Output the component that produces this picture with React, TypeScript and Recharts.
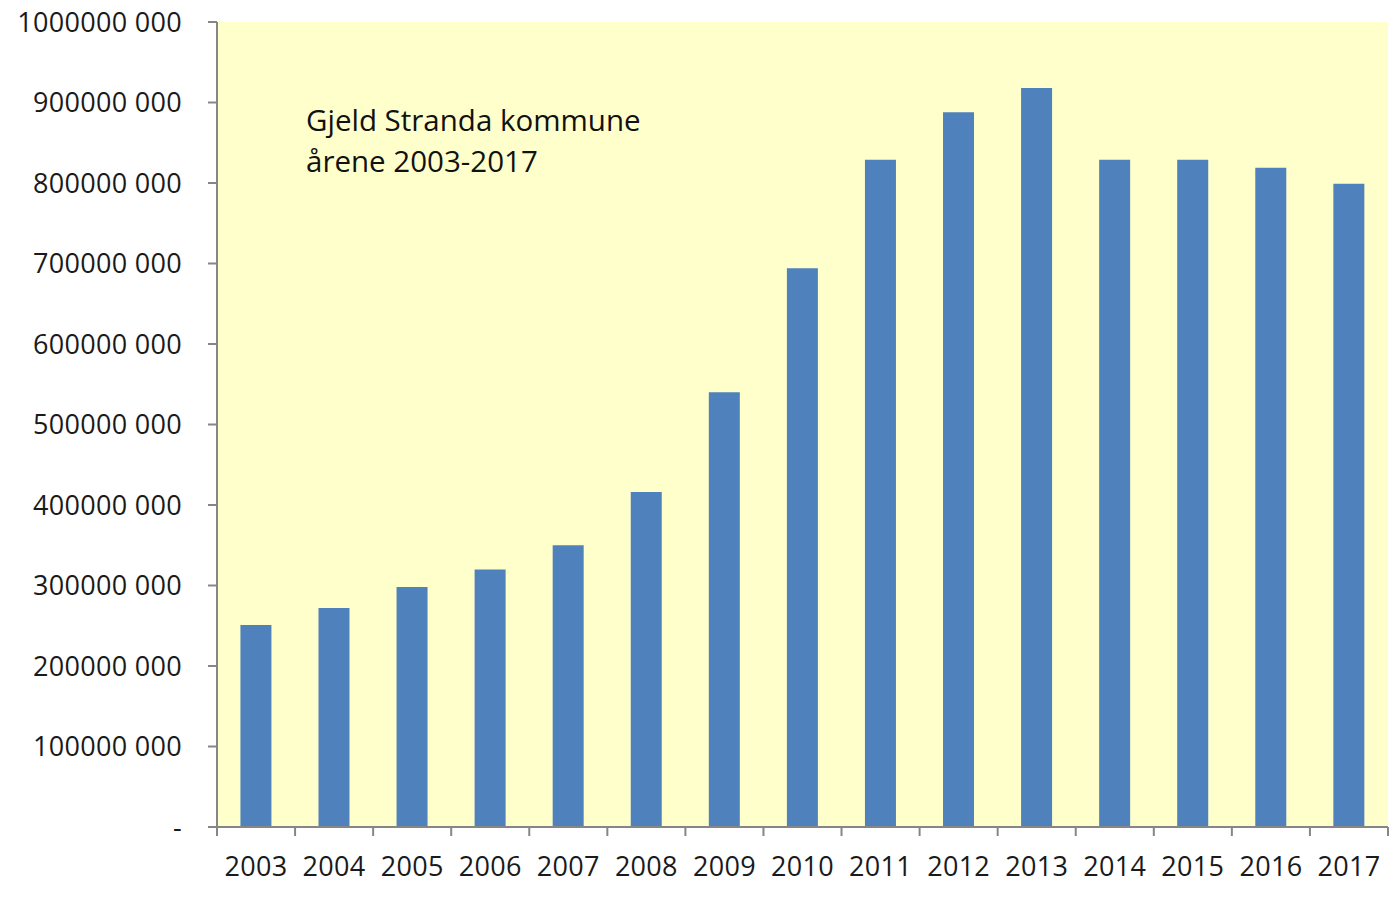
import React from 'react';
import { BarChart, Bar, XAxis, YAxis } from 'recharts';

const years = ['2003','2004','2005','2006','2007','2008','2009','2010','2011','2012','2013','2014','2015','2016','2017'];
const debt = [251e6, 272e6, 298e6, 320e6, 350e6, 416e6, 540e6, 694e6, 829e6, 888e6, 918e6, 829e6, 829e6, 819e6, 799e6];
const yTicks = [0, 100e6, 200e6, 300e6, 400e6, 500e6, 600e6, 700e6, 800e6, 900e6, 1000e6];
const titleLines = ['Gjeld Stranda kommune', 'årene 2003-2017'];

const data = years.map((y, i) => ({ year: y, value: debt[i] }));

const W = 1396;
const H = 920;
const M = { top: 22, right: 8, left: 0, bottom: 48 };
const Y_W = 217;
const PLOT_W = W - M.left - M.right - Y_W;
const BAND = PLOT_W / years.length;
const FONT = '"Open Sans", sans-serif';
const AXIS = '#868686';

const fmt = (v: number) => (v === 0 ? '-' : `${Math.round(v / 1000)} 000`);

const XTick = (props: any) => {
  const { x, y, payload, index } = props;
  const left = x - BAND / 2;
  return (
    <g>
      <line x1={left} y1={y - 8} x2={left} y2={y + 1} stroke={AXIS} strokeWidth={2} />
      {index === years.length - 1 && (
        <line x1={x + BAND / 2} y1={y - 8} x2={x + BAND / 2} y2={y + 1} stroke={AXIS} strokeWidth={2} />
      )}
      <text x={x} y={y + 41} textAnchor="middle" fontFamily={FONT} fontSize={27} letterSpacing={0.3} fill="#1a1a1a">
        {payload.value}
      </text>
    </g>
  );
};

export default function App() {
  return (
    <div style={{ position: 'absolute', left: 0, top: 0, width: W, height: H, background: '#ffffff' }}>
      <BarChart width={W} height={H} data={data} margin={M} barCategoryGap="30%">
        <rect x={Y_W} y={M.top} width={PLOT_W} height={H - M.top - M.bottom - 45} fill="#FFFFCC" />
        <XAxis
          dataKey="year"
          height={45}
          axisLine={{ stroke: AXIS, strokeWidth: 2 }}
          tickLine={false}
          tick={<XTick />}
          interval={0}
        />
        <YAxis
          width={Y_W}
          domain={[0, 1000e6]}
          ticks={yTicks}
          tickFormatter={fmt}
          axisLine={{ stroke: AXIS, strokeWidth: 2 }}
          tickLine={{ stroke: AXIS, strokeWidth: 2 }}
          tickSize={9}
          tickMargin={26}
          tick={{ fontFamily: FONT, fontSize: 27, letterSpacing: 0.3, fill: '#1a1a1a' }}
          interval={0}
        />
        <Bar dataKey="value" fill="#4F81BD" isAnimationActive={false} />
      </BarChart>
      <div
        style={{
          position: 'absolute',
          left: 306,
          top: 99,
          fontFamily: FONT,
          fontSize: 29.5,
          lineHeight: '41px',
          color: '#111',
          pointerEvents: 'none',
        }}
      >
        {titleLines.map((t) => (
          <div key={t}>{t}</div>
        ))}
      </div>
    </div>
  );
}
